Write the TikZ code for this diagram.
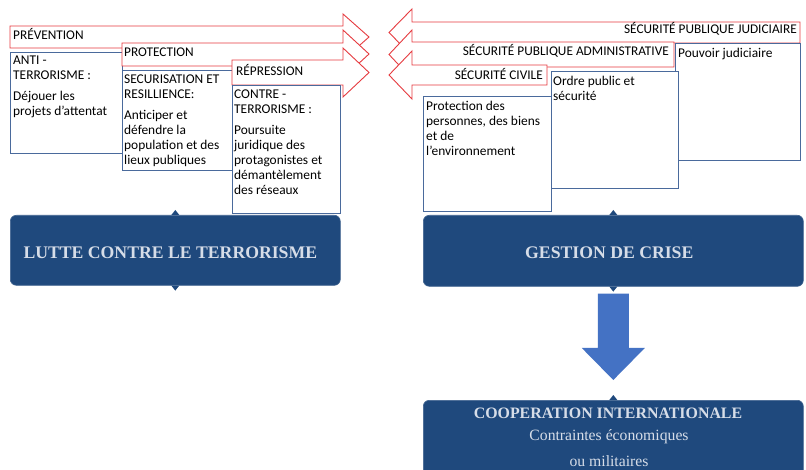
\documentclass[tikz,border=0pt]{standalone}
\usepackage{fontspec}
\setmainfont{Carlito}
\newfontfamily\titleserif{Liberation Serif}
\definecolor{redline}{HTML}{E63B40}
\definecolor{boxline}{HTML}{4A6A9C}
\definecolor{darkblue}{HTML}{1F497D}
\definecolor{lighttext}{HTML}{D6DDE8}
\definecolor{arrowblue}{HTML}{4472C4}
\begin{document}
\begin{tikzpicture}[x=1pt,y=-1pt,
  redarrow/.style={draw=redline, fill=white, line width=0.9pt, line join=miter},
  infobox/.style={draw=boxline, fill=white, line width=0.8pt, inner sep=0pt, anchor=north west},
  boxtext/.style={align=left, inner sep=0pt, anchor=north west, font=\fontsize{13.4}{15}\selectfont},
  lbl/.style={inner sep=0pt, font=\fontsize{13.3}{15}\selectfont},
  bluebox/.style={fill=darkblue, draw=darkblue!85!white, line width=0.6pt, rounded corners=6pt, inner sep=0pt, anchor=north west},
  bigtitle/.style={text=lighttext, inner sep=0pt, font=\titleserif\bfseries\fontsize{17.7}{20}\selectfont},
  subtitle/.style={text=lighttext, inner sep=0pt, font=\titleserif\fontsize{15.7}{18}\selectfont},
]
\clip (0,0) rectangle (806,470);
\fill[white] (0,0) rectangle (806,470);

% ---------- left side ----------
\draw[redarrow] (10,26) -- (343,26) -- (343,14) -- (369,37) -- (343,60) -- (343,48) -- (10,48) -- cycle;
\node[lbl, anchor=west] (prev) at (13,34) {PRÉVENTION};
\node[infobox, minimum width=112pt, minimum height=101pt] (anti) at (10,52) {};
\node[boxtext] (antiT) at ([xshift=3pt,yshift=-4pt]anti.north west) {ANTI -\\TERRORISME :\\[6pt]Déjouer les\\projets d'attentat};

\draw[redarrow] (122,43) -- (343,43) -- (343,30) -- (369,54) -- (343,78) -- (343,66) -- (122,66) -- cycle;
\node[lbl, anchor=west] (prot) at (124,52) {PROTECTION};
\node[infobox, minimum width=110pt, minimum height=100pt] (secu) at (122,70) {};
\node[boxtext] (secuT) at ([xshift=2pt,yshift=-5pt]secu.north west) {SECURISATION ET\\RESILLIENCE:\\[6pt]Anticiper et\\défendre la\\population et des\\lieux publiques};

\draw[redarrow] (232,60) -- (343,60) -- (343,48) -- (369,72.5) -- (343,97) -- (343,85) -- (232,85) -- cycle;
\node[lbl, anchor=west] (repr) at (236,70) {RÉPRESSION};
\node[infobox, minimum width=108pt, minimum height=128pt] (contre) at (232,85) {};
\node[boxtext] (contreT) at ([xshift=2pt,yshift=-5pt]contre.north west) {CONTRE -\\TERRORISME :\\[6pt]Poursuite\\juridique des\\protagonistes et\\démantèlement\\des réseaux};

% ---------- right side ----------
\draw[redarrow] (800,22) -- (412,22) -- (412,9) -- (389,32.5) -- (412,56) -- (412,43) -- (800,43) -- cycle;
\node[lbl, anchor=east] (judi) at (797,29) {SÉCURITÉ PUBLIQUE JUDICIAIRE};
\node[infobox, minimum width=125pt, minimum height=117pt] (pouv) at (675,43) {};
\node[boxtext] (pouvT) at ([xshift=3pt,yshift=-5pt]pouv.north west) {Pouvoir judiciaire};

\draw[redarrow] (674,42) -- (412,42) -- (412,30) -- (389,54.5) -- (412,79) -- (412,67) -- (674,67) -- cycle;
\node[lbl, anchor=east] (admi) at (669,51) {SÉCURITÉ PUBLIQUE ADMINISTRATIVE};
\node[infobox, minimum width=127pt, minimum height=117pt] (ordre) at (551,71) {};
\node[boxtext] (ordreT) at ([xshift=2pt,yshift=-5pt]ordre.north west) {Ordre public et\\sécurité};

\draw[redarrow] (547,65) -- (412,65) -- (412,51) -- (389,75) -- (412,99) -- (412,85) -- (547,85) -- cycle;
\node[lbl, anchor=east] (civi) at (543,74) {SÉCURITÉ CIVILE};
\node[infobox, minimum width=128pt, minimum height=115pt] (pers) at (423,96) {};
\node[boxtext] (persT) at ([xshift=3pt,yshift=-5pt]pers.north west) {Protection des\\personnes, des biens\\et de\\l'environnement};

% ---------- blue boxes ----------
\node[bluebox, minimum width=330pt, minimum height=70pt] (lutte) at (10,215) {};
\fill[darkblue] ([xshift=-4pt]lutte.north) -- ([yshift=5pt]lutte.north) -- ([xshift=4pt]lutte.north) -- cycle;
\fill[darkblue] ([xshift=-4pt]lutte.south) -- ([yshift=-5pt]lutte.south) -- ([xshift=4pt]lutte.south) -- cycle;
\node[bigtitle] (lutteT) at ([xshift=-5pt,yshift=-2pt]lutte.center) {LUTTE CONTRE LE TERRORISME};

\node[bluebox, minimum width=380pt, minimum height=71pt] (gest) at (423,215) {};
\fill[darkblue] ([xshift=-4pt]gest.north) -- ([yshift=5pt]gest.north) -- ([xshift=4pt]gest.north) -- cycle;
\fill[darkblue] ([xshift=-4pt]gest.south) -- ([yshift=-5pt]gest.south) -- ([xshift=4pt]gest.south) -- cycle;
\node[bigtitle] (gestT) at ([xshift=-4pt,yshift=-2pt]gest.center) {GESTION DE CRISE};

\node[bluebox, minimum width=380pt, minimum height=76pt] (coop) at (423,400) {};
\fill[darkblue] ([xshift=-4pt]coop.north) -- ([yshift=5pt]coop.north) -- ([xshift=4pt]coop.north) -- cycle;
\node[bigtitle, font=\titleserif\bfseries\fontsize{15.9}{18}\selectfont] (coopT) at (608,413) {COOPERATION INTERNATIONALE};
\node[subtitle] (coopS1) at (609,437) {Contraintes économiques};
\node[subtitle] (coopS2) at (609,461) {ou militaires};

% ---------- down arrow ----------
\coordinate (dtop) at ([yshift=-7pt]gest.south);
\fill[arrowblue] ([xshift=-15.5pt]dtop) -- ([xshift=15.5pt]dtop) -- ([xshift=15.5pt]dtop |- 0,348) -- ([xshift=31.5pt]dtop |- 0,348) -- (dtop |- 0,380) -- ([xshift=-31.5pt]dtop |- 0,348) -- ([xshift=-15.5pt]dtop |- 0,348) -- cycle;
\end{tikzpicture}
\end{document}
